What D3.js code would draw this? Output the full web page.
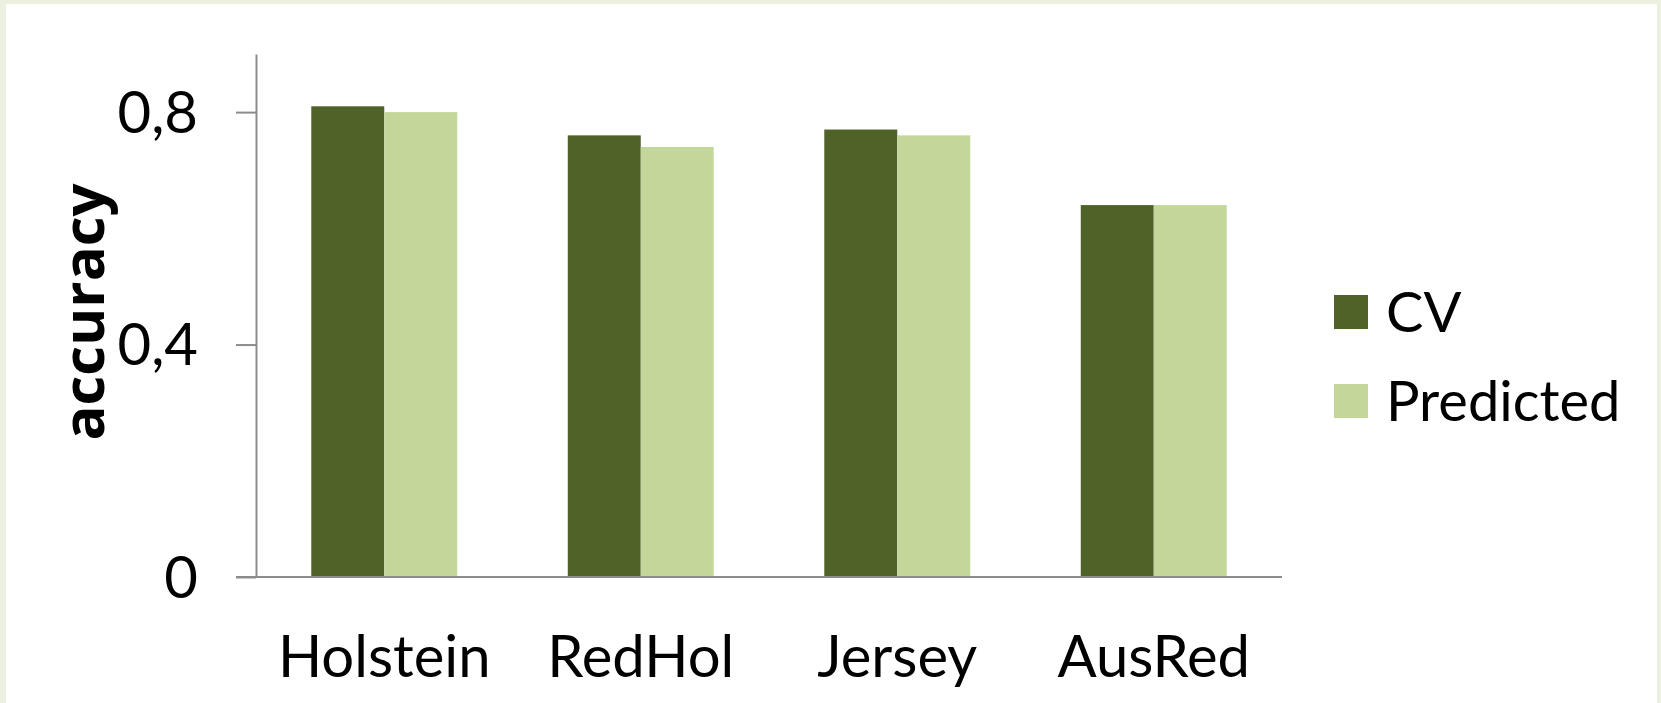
<!DOCTYPE html>
<html>
<head>
<meta charset="utf-8">
<script src="https://cdn.jsdelivr.net/npm/d3@7"></script>
<style>
  html, body { margin: 0; padding: 0; background: #ebf0df; }
  svg { display: block; }
  text { font-family: Lato, "Open Sans", sans-serif; fill: #000; }
</style>
</head>
<body>
<div id="chart"></div>
<script>
var w = 1661;
var h = 703;

var breeds = ["Holstein", "RedHol", "Jersey", "AusRed"];
var seriesNames = ["CV", "Predicted"];
var cvValues = [0.81, 0.76, 0.77, 0.64];
var predictedValues = [0.80, 0.74, 0.76, 0.64];
var yTicks = [0, 0.4, 0.8];
var colors = ["#4f6228", "#c4d79b"];

var dataset = breeds.map(function(b, i) {
  return {breed: b, values: [cvValues[i], predictedValues[i]]};
});

var plotLeft = 256, plotRight = 1282, plotTop = 54, plotBottom = 577;

var xScale = d3.scaleBand()
               .domain(breeds)
               .range([plotLeft, plotRight])
               .paddingInner(0.431)
               .paddingOuter(0.2155);

var subScale = d3.scaleBand()
                 .domain(seriesNames)
                 .range([0, xScale.bandwidth()]);

var yScale = d3.scaleLinear()
               .domain([0, 0.9])
               .range([plotBottom, plotTop]);

var svg = d3.select("#chart")
            .append("svg")
            .attr("width", w)
            .attr("height", h);

// white panel inside the light green frame
svg.append("rect")
   .attr("x", 6)
   .attr("y", 4)
   .attr("width", 1651)
   .attr("height", h - 4)
   .attr("fill", "#fff");

var groups = svg.append("g")
   .selectAll("g")
   .data(dataset)
   .enter()
   .append("g")
   .attr("transform", function(d) { return "translate(" + xScale(d.breed) + ",0)"; });

groups.selectAll("rect")
      .data(function(d) { return d.values; })
      .enter()
      .append("rect")
      .attr("x", function(d, i) { return subScale(seriesNames[i]); })
      .attr("y", function(d) { return yScale(d); })
      .attr("width", subScale.bandwidth())
      .attr("height", function(d) { return yScale(0) - yScale(d); })
      .attr("fill", function(d, i) { return colors[i]; });

var yAxis = d3.axisLeft(yScale)
              .tickValues(yTicks)
              .tickSize(20)
              .tickSizeOuter(0)
              .tickPadding(38)
              .tickFormat(function(d) { return d === 0 ? "0" : String(d).replace(".", ","); });

var yg = svg.append("g")
   .attr("transform", "translate(" + plotLeft + ",0)")
   .call(yAxis);

yg.select(".domain").attr("stroke", "#8c8c8c").attr("stroke-width", 2);
yg.selectAll(".tick line").attr("stroke", "#8c8c8c").attr("stroke-width", 2);
yg.selectAll(".tick text")
  .style("font-family", "Lato, sans-serif")
  .style("font-size", "58px")
  .attr("fill", "#000")
  .attr("dy", "0.35em");

// category axis line (extends left to meet the zero tick)
svg.append("line")
   .attr("x1", plotLeft - 20)
   .attr("x2", plotRight)
   .attr("y1", yScale(0))
   .attr("y2", yScale(0))
   .attr("stroke", "#8c8c8c")
   .attr("stroke-width", 2);

svg.append("g")
   .selectAll("text")
   .data(breeds)
   .enter()
   .append("text")
   .attr("x", function(d) { return xScale(d) + xScale.bandwidth() / 2; })
   .attr("y", 677)
   .attr("text-anchor", "middle")
   .style("font-size", "58px")
   .text(function(d) { return d; });

svg.append("text")
   .attr("transform", "translate(104,312) rotate(-90)")
   .attr("text-anchor", "middle")
   .style("font-family", "'Open Sans', sans-serif")
   .style("font-weight", "bold")
   .style("font-size", "58px")
   .text("accuracy");

var legend = svg.append("g")
   .selectAll("g")
   .data(seriesNames)
   .enter()
   .append("g")
   .attr("transform", function(d, i) { return "translate(1334," + (295 + i * 89) + ")"; });

legend.append("rect")
      .attr("width", 34)
      .attr("height", 34)
      .attr("fill", function(d, i) { return colors[i]; });

legend.append("text")
      .attr("x", 52)
      .attr("y", 17)
      .attr("dy", "0.35em")
      .style("font-size", "56px")
      .text(function(d) { return d; });
</script>
</body>
</html>
